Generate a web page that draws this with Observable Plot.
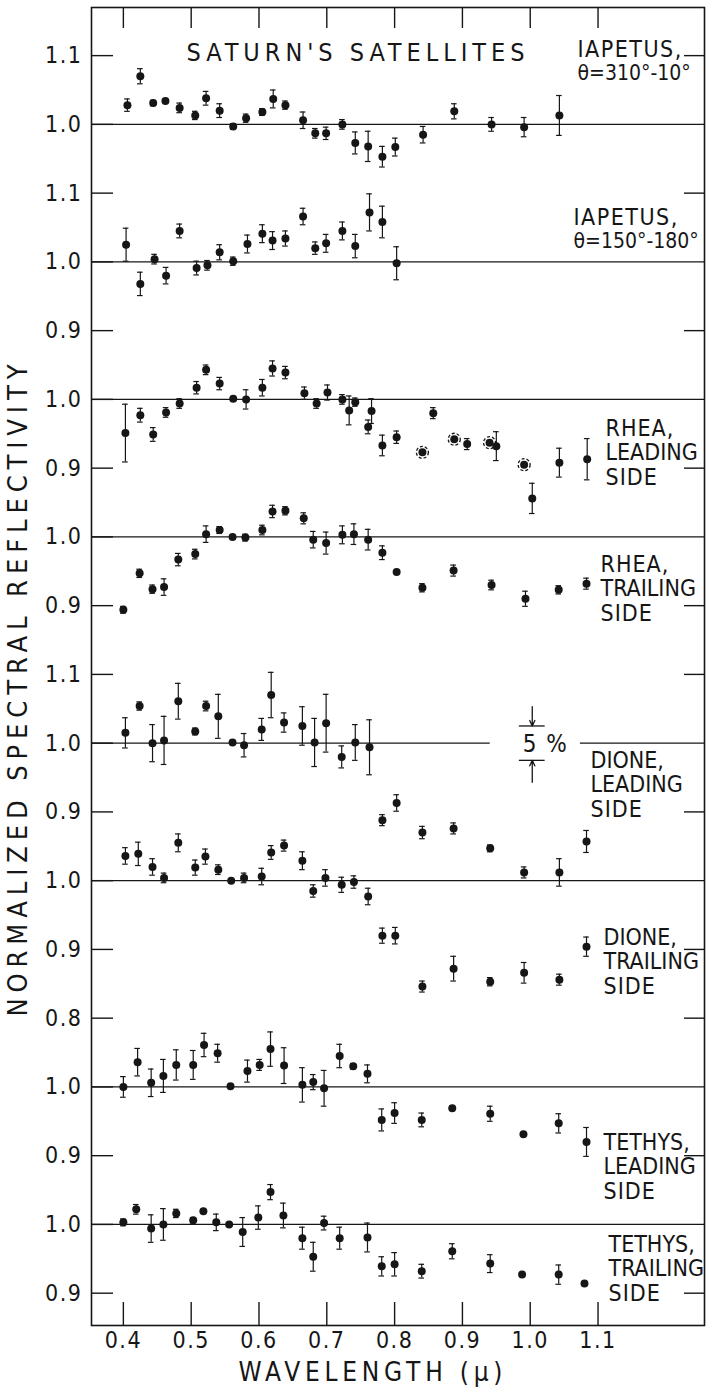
<!DOCTYPE html>
<html>
<head>
<meta charset="utf-8">
<script src="https://cdn.jsdelivr.net/npm/d3@7"></script>
<script src="https://cdn.jsdelivr.net/npm/@observablehq/plot@0.6"></script>
<style>
  html, body { margin: 0; padding: 0; background: #fff; }
  #chart svg text { letter-spacing: 1.5px; }
</style>
</head>
<body>
<div id="chart"></div>
<script>
// ---------- DATA ----------
const seriesNames = ["Iapetus 310-10", "Iapetus 150-180", "Rhea leading", "Rhea trailing",
  "Dione leading", "Dione trailing", "Tethys leading", "Tethys trailing"];
// vertical offset of each spectrum on the shared axis
const seriesOffsets = [0, -0.2, -0.4, -0.6, -0.9, -1.1, -1.4, -1.6];

const iap1W = [0.406,0.425,0.444,0.462,0.483,0.506,0.522,0.542,0.562,0.581,0.605,0.621,0.639,0.665,0.683,0.699,0.723,0.742,0.761,0.782,0.801,0.842,0.888,0.943,0.991,1.043];
const iap1R = [1.028,1.070,1.031,1.034,1.024,1.013,1.038,1.020,0.997,1.009,1.018,1.037,1.028,1.006,0.987,0.987,1.000,0.973,0.968,0.953,0.967,0.985,1.019,1.000,0.996,1.013];
const iap1E = [0.009,0.011,0.004,0,0.007,0.006,0.010,0.010,0.004,0.006,0.005,0.013,0.006,0.012,0.007,0.009,0.007,0.016,0.022,0.015,0.013,0.012,0.011,0.010,0.014,0.029];

const iap2W = [0.404,0.425,0.446,0.463,0.483,0.508,0.524,0.542,0.562,0.583,0.605,0.620,0.639,0.665,0.683,0.699,0.723,0.742,0.763,0.782,0.803];
const iap2R = [1.025,0.968,1.004,0.980,1.045,0.991,0.995,1.014,1.001,1.026,1.041,1.031,1.034,1.066,1.020,1.027,1.045,1.023,1.072,1.058,0.998];
const iap2E = [0.024,0.017,0.007,0.012,0.010,0.010,0.007,0.011,0.006,0.013,0.013,0.013,0.011,0.012,0.009,0.013,0.013,0.017,0.027,0.023,0.024];

const rheaLW = [0.403,0.425,0.444,0.463,0.483,0.508,0.522,0.542,0.562,0.581,0.605,0.620,0.639,0.667,0.685,0.701,0.723,0.733,0.742,0.761,0.766,0.782,0.803,0.841,0.857,0.888,0.907,0.940,0.950,0.991,1.003,1.043,1.084];
const rheaLR = [0.951,0.977,0.949,0.981,0.994,1.017,1.043,1.023,1.001,1.000,1.017,1.045,1.039,1.009,0.994,1.010,1.000,0.984,0.996,0.960,0.983,0.933,0.945,0.923,0.980,0.942,0.935,0.937,0.932,0.905,0.856,0.908,0.913];
const rheaLE = [0.042,0.010,0.010,0.007,0.007,0.009,0.007,0.009,0,0.014,0.012,0.011,0.009,0.009,0.007,0.011,0.007,0.021,0.006,0.010,0.018,0.015,0.009,0,0.008,0,0.008,0,0.021,0,0.022,0.021,0.030];
const rheaLCircled = [0.841,0.888,0.940,0.991];

const rheaTW = [0.400,0.424,0.443,0.460,0.481,0.506,0.522,0.542,0.561,0.580,0.605,0.620,0.639,0.666,0.680,0.699,0.723,0.740,0.761,0.782,0.803,0.841,0.887,0.943,0.993,1.042,1.083];
const rheaTR = [0.894,0.947,0.924,0.927,0.967,0.975,1.004,1.010,1.000,0.999,1.010,1.037,1.038,1.027,0.996,0.991,1.003,1.004,0.996,0.977,0.949,0.926,0.951,0.930,0.910,0.923,0.932];
const rheaTE = [0.005,0.006,0.006,0.012,0.009,0.007,0.012,0.005,0,0.005,0.007,0.009,0.006,0.008,0.012,0.016,0.013,0.015,0.015,0.010,0,0.006,0.008,0.007,0.011,0.006,0.008];

const dioneLW = [0.403,0.424,0.443,0.460,0.481,0.506,0.522,0.540,0.561,0.578,0.604,0.618,0.637,0.664,0.682,0.699,0.722,0.742,0.763,0.782,0.803,0.841,0.887,0.941,0.991,1.043,1.083];
const dioneLR = [1.015,1.054,1.000,1.004,1.061,1.017,1.054,1.039,1.001,0.997,1.020,1.070,1.030,1.025,1.001,1.029,0.980,1.001,0.994,0.888,0.913,0.870,0.876,0.847,0.812,0.812,0.857];
const dioneLE = [0.022,0.006,0.027,0.035,0.026,0.005,0.007,0.032,0,0.017,0.016,0.033,0.014,0.028,0.035,0.042,0.016,0.026,0.040,0.008,0.012,0.009,0.008,0.005,0.008,0.020,0.016];

const dioneTW = [0.403,0.422,0.443,0.460,0.481,0.506,0.521,0.540,0.559,0.578,0.604,0.618,0.637,0.664,0.680,0.698,0.722,0.740,0.761,0.782,0.801,0.841,0.887,0.941,0.991,1.043,1.083];
const dioneTR = [1.036,1.039,1.020,1.004,1.055,1.019,1.035,1.016,1.000,1.004,1.006,1.041,1.051,1.029,0.985,1.004,0.994,0.998,0.977,0.920,0.920,0.846,0.872,0.853,0.866,0.856,0.904];
const dioneTE = [0.012,0.017,0.012,0.007,0.013,0.011,0.011,0.007,0,0.007,0.012,0.010,0.008,0.013,0.009,0.012,0.011,0.009,0.012,0.011,0.012,0.008,0.018,0.006,0.015,0.008,0.014];

const tethysLW = [0.400,0.421,0.441,0.459,0.478,0.503,0.519,0.539,0.558,0.583,0.601,0.617,0.637,0.664,0.680,0.696,0.719,0.739,0.760,0.781,0.800,0.840,0.885,0.941,0.990,1.042,1.083];
const tethysLR = [1.000,1.036,1.006,1.016,1.032,1.032,1.061,1.049,1.001,1.023,1.032,1.055,1.031,1.003,1.007,0.998,1.045,1.030,1.019,0.952,0.962,0.952,0.969,0.961,0.931,0.947,0.920];
const tethysLE = [0.015,0.020,0.020,0.024,0.022,0.021,0.017,0.013,0,0.016,0.008,0.025,0.026,0.025,0.011,0.026,0.017,0.004,0.013,0.016,0.015,0.010,0,0.011,0,0.014,0.021];

const tethysTW = [0.400,0.419,0.441,0.459,0.478,0.503,0.518,0.537,0.556,0.576,0.599,0.617,0.636,0.664,0.680,0.696,0.719,0.760,0.781,0.800,0.840,0.885,0.941,0.988,1.042,1.080];
const tethysTR = [1.003,1.022,0.994,1.000,1.016,1.006,1.019,1.003,1.000,0.989,1.010,1.047,1.013,0.980,0.953,1.002,0.980,0.981,0.939,0.942,0.932,0.961,0.943,0.927,0.927,0.914];
const tethysTE = [0.005,0.007,0.020,0.023,0.006,0.004,0,0.012,0,0.021,0.017,0.011,0.018,0.016,0.021,0.010,0.016,0.021,0.014,0.017,0.010,0.011,0.013,0,0.014,0];

// axis ticks (position on shared axis) and their printed labels
const yTickValues = [1.1, 1.0, 0.9, 0.8, 0.7, 0.6, 0.5, 0.4, 0.3, 0.2, 0.1, 0.0, -0.1, -0.2, -0.3, -0.4, -0.5, -0.6, -0.7];
const yTickLabels = ["1.1","1.0","1.1","1.0","0.9","1.0","0.9","1.0","0.9","1.1","1.0","0.9","1.0","0.9","0.8","1.0","0.9","1.0","0.9"];
const xTickValues = [0.4, 0.5, 0.6, 0.7, 0.8, 0.9, 1.0, 1.1];

const titleText = "SATURN'S SATELLITES";
const seriesLabels = ["IAPETUS,\nθ=310°-10°", "IAPETUS,\nθ=150°-180°", "RHEA,\nLEADING\nSIDE", "RHEA,\nTRAILING\nSIDE",
  "DIONE,\nLEADING\nSIDE", "DIONE,\nTRAILING\nSIDE", "TETHYS,\nLEADING\nSIDE", "TETHYS,\nTRAILING\nSIDE"];
const scaleBarText = "5 %";
const scaleBarSize = 0.05;
const xLabel = "WAVELENGTH (μ)";
const yLabel = "NORMALIZED SPECTRAL REFLECTIVITY";

// ---------- BUILD ----------
const seriesW = [iap1W, iap2W, rheaLW, rheaTW, dioneLW, dioneTW, tethysLW, tethysTW];
const seriesR = [iap1R, iap2R, rheaLR, rheaTR, dioneLR, dioneTR, tethysLR, tethysTR];
const seriesE = [iap1E, iap2E, rheaLE, rheaTE, dioneLE, dioneTE, tethysLE, tethysTE];

const rows = seriesW.flatMap((ws, k) => ws.map((w, i) => ({
  series: seriesNames[k], w, g: seriesR[k][i] + seriesOffsets[k], e: seriesE[k][i]
})));
const errRows = rows.filter(d => d.e > 0);
const circledRows = rheaLCircled.map(w => rows.find(d => d.series === "Rhea leading" && d.w === w));
const baselines = seriesOffsets.map(o => 1.0 + o);
const labelByTick = new Map(yTickValues.map((v, i) => [v, yTickLabels[i]]));
const baselineSet = new Set(baselines.map(b => b.toFixed(2)));
const innerTicks = yTickValues.filter(v => !baselineSet.has(v.toFixed(2)));

const W = 706, H = 1387;
const mL = 91, mR = 2, mT = 7, mB = 62;
const fw = W - mL - mR, fh = H - mT - mB;
const xDom = [0.353, 1.257], yDom = [-0.747, 1.170];
const cap = 2.8 * (xDom[1] - xDom[0]) / fw;

// baseline segments (the Dione-leading line is interrupted by the 5% mark)
const dioneLBase = baselines[4];
const baseSegs = baselines.flatMap(b => b === dioneLBase
  ? [{y: b, x1: xDom[0], x2: 0.941}, {y: b, x1: 1.074, x2: xDom[1]}]
  : [{y: b, x1: xDom[0], x2: xDom[1]}]);

// 5% scale bar centred on the Dione-leading 1.0 line
const barX = 1.003, barX1 = 0.984, barX2 = 1.022;
const barTop = dioneLBase + scaleBarSize / 2, barBot = dioneLBase - scaleBarSize / 2;

const ink = "#161616";
const labelPos = [[486, 54], [482, 222], [514, 445], [509, 581], [499, 777], [512, 954], [512, 1159], [517, 1261]];

const marks = [
  Plot.frame({stroke: ink, strokeWidth: 1.6}),
  Plot.ruleY(baseSegs, {y: "y", x1: "x1", x2: "x2", stroke: ink, strokeWidth: 1.3}),
  Plot.ruleY(yTickValues, {stroke: ink, strokeWidth: 1.4, insetRight: fw - 22}),
  Plot.ruleY(innerTicks, {stroke: ink, strokeWidth: 1.4, insetLeft: fw - 20}),
  Plot.ruleX(xTickValues, {stroke: ink, strokeWidth: 1.4, insetTop: fh - 23}),
  Plot.ruleX(xTickValues, {stroke: ink, strokeWidth: 1.4, insetBottom: fh - 21}),
  // error bars
  Plot.ruleX(errRows, {x: "w", y1: d => d.g - d.e, y2: d => d.g + d.e, stroke: ink, strokeWidth: 1.2}),
  Plot.ruleY(errRows, {y: d => d.g + d.e, x1: d => d.w - cap, x2: d => d.w + cap, stroke: ink, strokeWidth: 1.2}),
  Plot.ruleY(errRows, {y: d => d.g - d.e, x1: d => d.w - cap, x2: d => d.w + cap, stroke: ink, strokeWidth: 1.2}),
  // points
  Plot.dot(circledRows, {x: "w", y: "g", r: 6, stroke: ink, strokeWidth: 1.3, strokeDasharray: "3,2", fill: "none"}),
  Plot.dot(rows, {x: "w", y: "g", r: 4, fill: ink, stroke: "none"}),
  // 5% bar
  Plot.ruleY([barTop, barBot], {x1: barX1, x2: barX2, stroke: ink, strokeWidth: 1.3}),
  Plot.arrow([{y1: barTop + 0.028, y2: barTop}, {y1: barBot - 0.032, y2: barBot}],
    {x1: barX, x2: barX, y1: "y1", y2: "y2", stroke: ink, strokeWidth: 1.3, headLength: 7, headAngle: 50}),
  Plot.text([scaleBarText], {frameAnchor: "top-left", dx: 454, dy: 737, fontSize: 24, fill: ink, textAnchor: "middle", lineAnchor: "middle"}),
  // axes
  Plot.axisY({ticks: yTickValues, tickSize: 0, tickPadding: 9, tickFormat: d => labelByTick.get(d), fontSize: 23, label: null, color: ink}),
  Plot.axisX({ticks: xTickValues, tickSize: 0, tickPadding: 6, tickFormat: d3.format(".1f"), fontSize: 23, label: null, color: ink}),
  // title and labels
  Plot.text([titleText], {frameAnchor: "top-left", dx: 264, dy: 45, fontSize: 25, fill: ink, textAnchor: "middle", lineAnchor: "middle"}),
  ...seriesLabels.map((t, i) => Plot.text([t], {frameAnchor: "top-left", dx: labelPos[i][0], dy: labelPos[i][1],
    fontSize: 23, lineHeight: 1.07, fill: ink, textAnchor: "start", lineAnchor: "middle"})),
  Plot.text([xLabel], {frameAnchor: "bottom-left", dx: 279, dy: 47, fontSize: 26, fill: ink, textAnchor: "middle", lineAnchor: "middle"}),
  Plot.text([yLabel], {frameAnchor: "top-left", dx: -73, dy: 683, rotate: -90, fontSize: 27, fill: ink, textAnchor: "middle", lineAnchor: "middle"})
];

const chart = Plot.plot({
  width: W, height: H,
  marginLeft: mL, marginRight: mR, marginTop: mT, marginBottom: mB,
  x: {domain: xDom, axis: null},
  y: {domain: yDom, axis: null},
  style: {fontFamily: "'DejaVu Sans Condensed', 'DejaVu Sans', sans-serif", background: "#fff", color: ink},
  marks
});
document.getElementById("chart").appendChild(chart);

// fit the lettering to the widths of the original
const svg = d3.select(chart.tagName.toLowerCase() === "svg" ? chart : chart.querySelector("svg"));
const seriesLabelSet = new Set(seriesLabels.map(s => s.replace(/\n/g, "")));
svg.selectAll("text").each(function () {
  const t = this.textContent;
  const sel = d3.select(this);
  if (t === titleText) sel.attr("textLength", 338).attr("lengthAdjust", "spacing").style("letter-spacing", "0px");
  else if (t === yLabel) sel.attr("textLength", 652).attr("lengthAdjust", "spacing").style("letter-spacing", "0px");
  else if (t === xLabel) sel.attr("textLength", 264).attr("lengthAdjust", "spacing").style("letter-spacing", "0px");
  else if (seriesLabelSet.has(t)) sel.style("letter-spacing", "0px");
});
svg.selectAll("tspan").each(function () {
  const t = this.textContent;
  if (t.includes("θ")) d3.select(this).style("font-size", "21px").style("letter-spacing", "0px");
  else if (t.startsWith("IAPETUS")) d3.select(this).style("letter-spacing", "1.5px");
  else if (t === "RHEA," || t === "SIDE") d3.select(this).style("letter-spacing", "1px");
});
</script>
</body>
</html>
